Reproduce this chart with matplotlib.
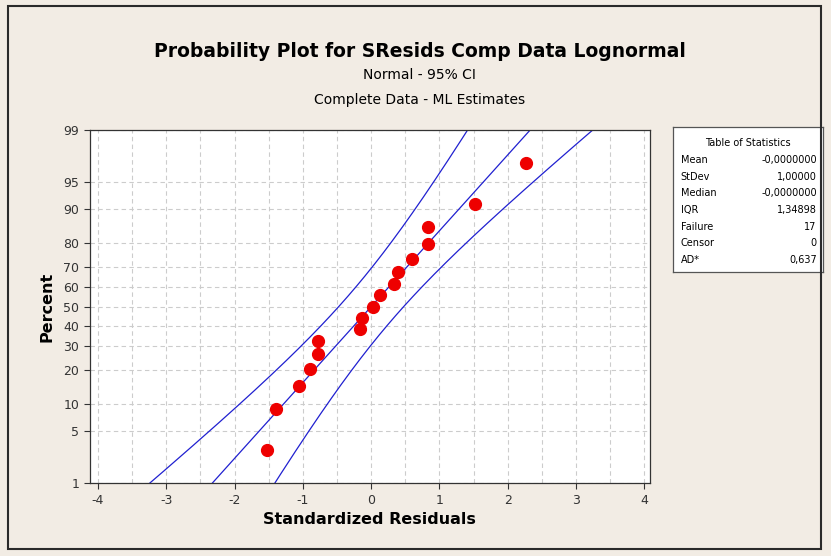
import numpy as np
import matplotlib
matplotlib.use('Agg')
import matplotlib.pyplot as plt
from matplotlib.patches import Rectangle
from statistics import NormalDist

resid = [-1.52, -1.39, -1.06, -0.90, -0.78, -0.78, -0.17, -0.14, 0.03,
         0.13, 0.34, 0.39, 0.60, 0.83, 0.83, 1.52, 2.27]
pct = [2.9, 8.8, 14.7, 20.6, 26.5, 32.4, 38.2, 44.1, 50.0,
       55.9, 61.8, 67.6, 73.5, 79.4, 85.3, 91.2, 97.1]

# table of statistics
stat_names = ['Mean', 'StDev', 'Median', 'IQR', 'Failure', 'Censor', 'AD*']
stat_vals = ['-0,0000000', '1,00000', '-0,0000000', '1,34898', '17', '0', '0,637']
mu, sigma, n_obs = 0.0, 1.0, 17

y_ticks = [1, 5, 10, 20, 30, 40, 50, 60, 70, 80, 90, 95, 99]
x_ticks = [-4, -3, -2, -1, 0, 1, 2, 3, 4]

nd = NormalDist()
def p2z(p):
    return np.array([nd.inv_cdf(v / 100.) for v in np.atleast_1d(p)])

BG = '#f2ece4'
fig = plt.figure(figsize=(8.31, 5.56), dpi=100, facecolor=BG)
fig.patches.append(Rectangle((0.010, 0.012), 0.978, 0.977, transform=fig.transFigure,
                             fill=False, edgecolor='#2a2a2a', lw=1.5))
ax = fig.add_axes([0.108, 0.131, 0.674, 0.635])
ax.set_facecolor('white')

# fitted line and 95% CI (ML, normal)
zz = np.linspace(p2z(0.5)[0], p2z(99.5)[0], 200)
xp = mu + zz * sigma
se = sigma * np.sqrt(1. / n_obs + zz ** 2 / (2. * n_obs))
ax.plot(xp, zz, color='#2020d0', lw=0.9)
ax.plot(xp - 1.96 * se, zz, color='#2020d0', lw=0.9)
ax.plot(xp + 1.96 * se, zz, color='#2020d0', lw=0.9)

ax.plot(resid, p2z(pct), 'o', color='#ee0000', ms=8.5, mec='#ee0000', zorder=5)

ax.set_xlim(-4.12, 4.08)
ax.set_ylim(p2z(1)[0], p2z(99)[0])
ax.set_xticks(x_ticks)
ax.set_xticklabels([str(v) for v in x_ticks])
ax.set_xticks(np.arange(-3.5, 4.0, 1.0), minor=True)
ax.set_yticks(p2z(y_ticks))
ax.set_yticklabels([str(v) for v in y_ticks])
ax.tick_params(axis='both', labelsize=9, colors='#333333', length=4, width=0.8)
ax.tick_params(axis='x', which='minor', length=0)
ax.grid(True, which='both', color='#cccccc', ls=(0, (4, 3)), lw=0.8)
for s in ax.spines.values():
    s.set_color('#333333')
    s.set_linewidth(0.9)

ax.set_xlabel('Standardized Residuals', fontsize=11.5, fontweight='bold', labelpad=4)
ax.set_ylabel('Percent', fontsize=11.5, fontweight='bold', labelpad=6)

fig.text(0.505, 0.908, 'Probability Plot for SResids Comp Data Lognormal',
         ha='center', va='center', fontsize=13.5, fontweight='bold')
fig.text(0.505, 0.866, 'Normal - 95% CI', ha='center', va='center', fontsize=10)
fig.text(0.505, 0.820, 'Complete Data - ML Estimates', ha='center', va='center', fontsize=10)

# table of statistics box
tb = fig.add_axes([0.810, 0.511, 0.180, 0.261])
tb.set_xticks([]); tb.set_yticks([])
tb.set_facecolor('white')
for s in tb.spines.values():
    s.set_color('#555555')
    s.set_linewidth(0.9)
tb.set_xlim(0, 1); tb.set_ylim(0, 1)
tb.text(0.5, 0.89, 'Table of Statistics', ha='center', va='center', fontsize=7)
for i, (nm, vl) in enumerate(zip(stat_names, stat_vals)):
    yy = 0.772 - i * 0.115
    tb.text(0.05, yy, nm, ha='left', va='center', fontsize=7)
    tb.text(0.96, yy, vl, ha='right', va='center', fontsize=7)

fig.savefig('out.png', dpi=100, facecolor=BG)
